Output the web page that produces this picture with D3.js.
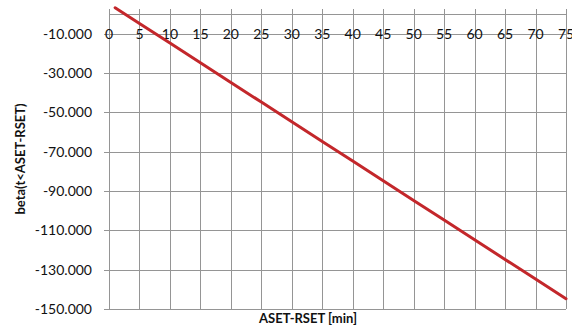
<!DOCTYPE html>
<html><head><meta charset="utf-8">
<script src="https://cdn.jsdelivr.net/npm/d3@7"></script>
<style>body{margin:0;background:#fff}svg{display:block}</style>
</head><body>
<svg id="c" width="572" height="332"></svg>
<script>
const xValues = [1, 5, 10, 15, 20, 25, 30, 35, 40, 45, 50, 55, 60, 65, 70, 75];
const betaValues = [3.2, -4.8, -14.8, -24.8, -34.8, -44.8, -54.8, -64.8, -74.8, -84.8, -94.8, -104.8, -114.8, -124.8, -134.8, -144.8];
const xTicks = [0, 5, 10, 15, 20, 25, 30, 35, 40, 45, 50, 55, 60, 65, 70, 75];
const yTicks = [-10, -30, -50, -70, -90, -110, -130, -150];
const xTitle = "ASET-RSET [min]";
const yTitle = "beta(t<ASET-RSET)";

const svg = d3.select("#c");
const L = 109, R = 566, T = 14, B = 309;
const x = d3.scaleLinear().domain([0, 75]).range([L, R]);
const y = d3.scaleLinear().domain([-150, 0]).range([B, T]);
const font = "Lato, 'Open Sans', sans-serif";
const grid = "#959595";

// horizontal gridlines
svg.append("g").selectAll("line").data(yTicks).join("line")
  .attr("x1", L - 5).attr("x2", R)
  .attr("y1", d => Math.round(y(d)) + 0.5).attr("y2", d => Math.round(y(d)) + 0.5)
  .attr("stroke", grid).attr("stroke-width", 1);
// top border
svg.append("line").attr("x1", L).attr("x2", R).attr("y1", T + 0.5).attr("y2", T + 0.5)
  .attr("stroke", grid);
// vertical gridlines
svg.append("g").selectAll("line").data(xTicks).join("line")
  .attr("x1", d => Math.round(x(d)) + 0.5).attr("x2", d => Math.round(x(d)) + 0.5)
  .attr("y1", T - 5).attr("y2", B)
  .attr("stroke", grid).attr("stroke-width", 1);

// y tick labels
const fmt = d => d3.format(".3f")(d).replace("−", "-");
svg.append("g").selectAll("text").data(yTicks).join("text")
  .attr("x", 92).attr("y", d => y(d)).attr("dy", "0.35em")
  .attr("text-anchor", "end").attr("font-family", font).attr("font-size", 14)
  .attr("fill", "#111").text(fmt);

// x tick labels along axis at -10
svg.append("g").selectAll("text").data(xTicks).join("text")
  .attr("x", d => x(d)).attr("y", y(-10)).attr("dy", "0.36em")
  .attr("text-anchor", "middle").attr("font-family", font).attr("font-size", 14)
  .attr("fill", "#111").text(d => d);

// line
svg.append("path").datum(xValues.map((v, i) => [v, betaValues[i]]))
  .attr("d", d3.line().x(d => x(d[0])).y(d => y(d[1])))
  .attr("fill", "none").attr("stroke", "#c3272b").attr("stroke-width", 3)
  .attr("stroke-linecap", "round");

// titles
svg.append("text").attr("x", 308).attr("y", 323)
  .attr("text-anchor", "middle").attr("font-family", font).attr("font-weight", "bold")
  .attr("font-size", 13).attr("fill", "#111").text(xTitle);
svg.append("text").attr("transform", "translate(25,159) rotate(-90)")
  .attr("text-anchor", "middle").attr("font-family", font).attr("font-weight", "bold")
  .attr("font-size", 13).attr("fill", "#111").text(yTitle);
</script>
</body></html>
